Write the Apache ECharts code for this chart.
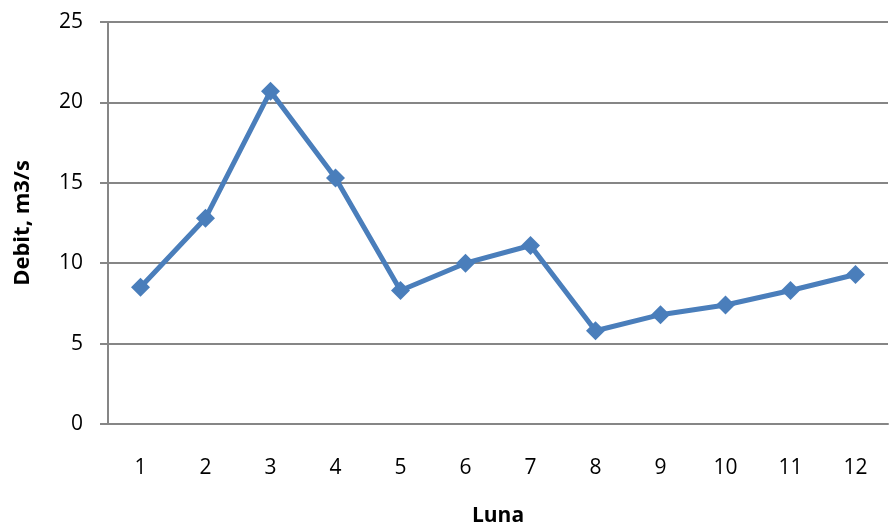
<!DOCTYPE html>
<html><head><meta charset="utf-8">
<script src="https://cdn.jsdelivr.net/npm/echarts@6/dist/echarts.min.js"></script>
<style>html,body{margin:0;padding:0;background:#fff}#c{width:889px;height:532px}</style>
</head><body><div id="c"></div>
<script>
var categories = ['1','2','3','4','5','6','7','8','9','10','11','12'];
var debit = [8.5, 12.8, 20.7, 15.3, 8.3, 10.0, 11.1, 5.8, 6.8, 7.4, 8.3, 9.3];
var chart = echarts.init(document.getElementById('c'));
var font = '"Open Sans", "Liberation Sans", sans-serif';
chart.setOption({
  animation: false,
  grid: {left: 108, right: 1, top: 22, bottom: 107},
  xAxis: {
    type: 'category', data: categories, boundaryGap: true,
    name: 'Luna', nameLocation: 'middle', nameGap: 82,
    nameTextStyle: {fontFamily: font, fontSize: 21, fontWeight: 'bold', color: '#000'},
    axisLine: {lineStyle: {color: '#868686', width: 2}},
    axisTick: {show: false},
    axisLabel: {fontFamily: font, fontSize: 21, color: '#000', margin: 34}
  },
  yAxis: {
    type: 'value', min: 0, max: 25, interval: 5,
    name: 'Debit, m3/s', nameLocation: 'middle', nameGap: 74,
    nameTextStyle: {fontFamily: font, fontSize: 22, fontWeight: 'bold', color: '#000'},
    axisLine: {show: true, lineStyle: {color: '#868686', width: 2}},
    axisTick: {show: true, length: 8, lineStyle: {color: '#868686', width: 2}},
    splitLine: {lineStyle: {color: '#868686', width: 2}},
    axisLabel: {fontFamily: font, fontSize: 21, color: '#000', margin: 25}
  },
  series: [{
    type: 'line', data: debit,
    symbol: 'diamond', symbolSize: 19,
    lineStyle: {color: '#4a7ebb', width: 5},
    itemStyle: {color: '#4a7ebb'}
  }]
});
</script></body></html>
